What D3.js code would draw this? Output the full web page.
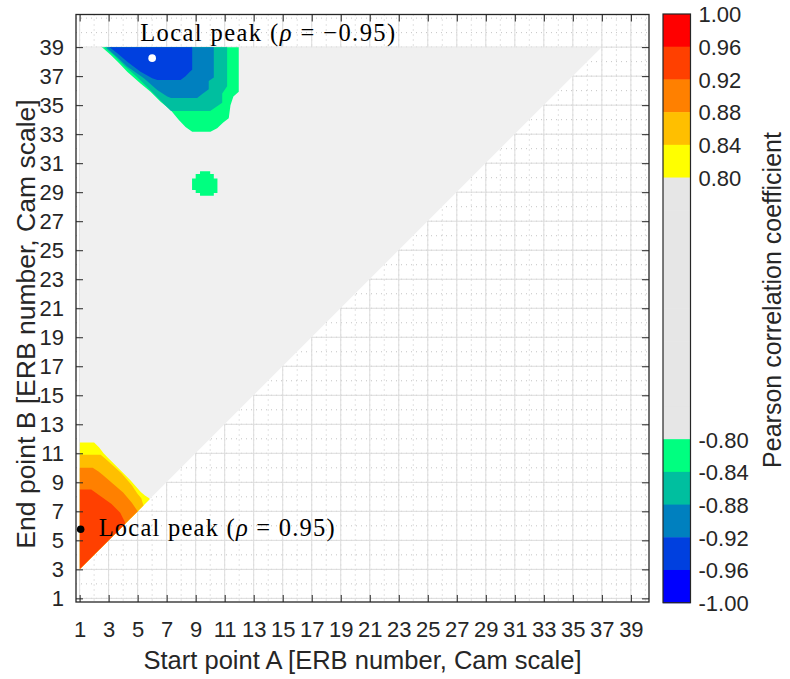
<!DOCTYPE html>
<html><head><meta charset="utf-8">
<script src="https://cdn.jsdelivr.net/npm/d3@7/dist/d3.min.js"></script>
<style>body{margin:0;background:#fff}svg{display:block}</style>
</head><body>
<svg id="chart" width="790" height="679"></svg>
<script>
// ---------- data ----------
const xTickValues = [1,3,5,7,9,11,13,15,17,19,21,23,25,27,29,31,33,35,37,39];
const yTickValues = [1,3,5,7,9,11,13,15,17,19,21,23,25,27,29,31,33,35,37,39];
// region where correlations were computed (start A, end B)
const dataRegion = [[1,3],[1,39],[37,39]];
// positive contour levels (rho >= level), bottom-left blob
const posLevels = [0.80, 0.84, 0.88, 0.92];
const posContour080 = [[1,11.75],[2.0,11.75],[2.35,11.4],[2.65,11.0],[3.0,10.65],[3.35,10.3],[3.9,9.75],[4.5,9.15],[5.2,8.35],[5.5,8.1],[5.8,7.9],[5.85,7.8],[9,7.8],[9,1],[1,1]];
const posContour084 = [[1,10.9],[2.45,10.9],[2.8,10.6],[3.2,10.25],[3.9,9.6],[4.3,9.15],[4.6,8.8],[5.0,8.2],[5.25,7.9],[5.4,7.4],[9,7.4],[9,1],[1,1]];
const posContour088 = [[1,10.0],[1.9,10.0],[2.3,9.75],[2.6,9.5],[3.3,8.9],[4.0,8.3],[4.6,7.6],[5.0,7.0],[9,7],[9,1],[1,1]];
const posContour092 = [[1,8.5],[1.8,8.5],[2.5,8.0],[3.2,7.5],[3.8,6.9],[4.1,6.3],[4.2,6.0],[9,6],[9,1],[1,1]];
// negative contour levels (rho <= level), top-left blob
const negLevels = [-0.80, -0.84, -0.88, -0.92];
const negContour080 = [[2.3,40],[2.49,39.04],[3.13,38.47],[3.71,37.9],[4.28,37.3],[5.2,36.5],[5.89,35.93],[6.58,35.24],[7.27,34.67],[7.84,33.98],[8.3,33.5],[8.76,33.16],[10.02,33.16],[10.48,33.4],[10.9,33.8],[11.28,34.1],[11.4,35.0],[11.6,35.6],[11.97,35.93],[11.97,40]];
const negContour084 = [[2.6,40],[2.7,39],[3.4,38.4],[4.1,37.7],[4.9,37.0],[5.6,36.3],[6.3,35.6],[6.9,35.0],[7.3,34.6],[10.0,34.6],[10.48,34.93],[10.83,35.16],[10.83,35.8],[11.17,36.3],[11.17,40]];
const negContour088 = [[2.8,40],[2.9,38.93],[3.6,38.3],[4.28,37.66],[5.43,36.86],[6.35,36.05],[7.04,35.6],[7.3,35.5],[9.1,35.5],[9.5,35.8],[9.9,36.1],[9.9,36.66],[10.25,36.9],[10.25,40]];
const negContour092 = [[3.0,40],[3.06,39],[3.6,38.58],[4.28,38.0],[5.2,37.3],[6.0,36.85],[6.35,36.74],[7.96,36.74],[8.3,37.0],[8.6,37.3],[8.76,37.44],[8.76,40]];
// small isolated island (rho <= -0.80)
const islandLevel = -0.80;
const islandContour = [[9.3,30.45],[10.0,30.45],[10.0,30.25],[10.25,30.25],[10.25,29.95],[10.5,29.95],[10.5,28.95],[10.25,28.95],[10.25,28.75],[9.3,28.75],[9.3,28.95],[9.0,28.95],[9.0,29.15],[8.75,29.15],[8.75,29.95],[9.0,29.95],[9.0,30.25],[9.3,30.25]];
// local peaks
const peakA = [1.07, 6.0];
const peakB = [5.76, 38.24];
const peakRho = [0.95, -0.95];
// colour map (top -> bottom of the colour bar)
const cmapColors = ['#FF0000','#FF4000','#FF8000','#FFBF00','#FFFF00',
  '#E6E6E6','#E6E6E6','#E6E6E6','#E6E6E6','#E6E6E6','#E6E6E6','#E6E6E6','#E6E6E6',
  '#00FF80','#00BF9F','#0080BF','#0040DF','#0000FF'];
const cbTickLabels = ['1.00','0.96','0.92','0.88','0.84','0.80','-0.80','-0.84','-0.88','-0.92','-0.96','-1.00'];
const bandThresholds = [-0.96,-0.92,-0.88,-0.84,-0.80,0.80,0.84,0.88,0.92,0.96];
const bandColors = ['#0000FF','#0040DF','#0080BF','#00BF9F','#00FF80','#F0F0F0','#FFFF00','#FFBF00','#FF8000','#FF4000','#FF0000'];

// ---------- layout ----------
const svg = d3.select('#chart');
const L = 76, R = 649, T = 14.5, B = 602;
const x = d3.scaleLinear().domain([0.75, 40.25]).range([L, R]);
const y = d3.scaleLinear().domain([0.75, 41.25]).range([B, T]);
const color = d3.scaleThreshold().domain(bandThresholds).range(bandColors);
const sans = 'Liberation Sans, Arial, Helvetica, sans-serif';
const serif = 'Liberation Serif, Times New Roman, serif';
const axisColor = '#262626';
const tickFont = 22, labelFont = 25.5;

const defs = svg.append('defs');
defs.append('clipPath').attr('id','axclip').append('rect')
  .attr('x', L).attr('y', T).attr('width', R-L).attr('height', B-T);
const line = d3.line().x(d => x(d[0])).y(d => y(d[1]));
defs.append('clipPath').attr('id','dataclip').append('path')
  .attr('d', line(dataRegion) + 'Z');

// background
svg.append('rect').attr('x',L).attr('y',T).attr('width',R-L).attr('height',B-T).attr('fill','#fff');

// grid
const grid = svg.append('g').attr('clip-path','url(#axclip)');
const minorX = d3.range(1, 41), minorY = d3.range(1, 42);
grid.selectAll('.mx').data(minorX).join('line')
  .attr('x1', d => x(d)).attr('x2', d => x(d)).attr('y1', T).attr('y2', B)
  .attr('stroke','#c4c4c4').attr('stroke-width',1).attr('stroke-dasharray','1,4');
grid.selectAll('.my').data(minorY).join('line')
  .attr('y1', d => y(d)).attr('y2', d => y(d)).attr('x1', L).attr('x2', R)
  .attr('stroke','#c4c4c4').attr('stroke-width',1).attr('stroke-dasharray','1,4');
grid.selectAll('.gx').data(xTickValues).join('line')
  .attr('x1', d => x(d)).attr('x2', d => x(d)).attr('y1', T).attr('y2', B)
  .attr('stroke','#dcdcdc').attr('stroke-width',1);
grid.selectAll('.gy').data(yTickValues).join('line')
  .attr('y1', d => y(d)).attr('y2', d => y(d)).attr('x1', L).attr('x2', R)
  .attr('stroke','#dcdcdc').attr('stroke-width',1);

// data field
const field = svg.append('g').attr('clip-path','url(#dataclip)');
field.append('path').attr('d', line(dataRegion)+'Z').attr('fill', color(0));
const posContours = [posContour080, posContour084, posContour088, posContour092];
const negContours = [negContour080, negContour084, negContour088, negContour092];
posContours.forEach((c, i) => {
  field.append('path').attr('d', line(c)+'Z').attr('fill', color(posLevels[i] + 0.02));
});
negContours.forEach((c, i) => {
  field.append('path').attr('d', line(c)+'Z').attr('fill', color(negLevels[i] - 0.02));
});
field.append('path').attr('d', line(islandContour)+'Z').attr('fill', color(islandLevel - 0.02));

// axes
const tickLen = 7;
const ax = svg.append('g').attr('font-family', sans);
const bottomAxis = d3.axisBottom(x).tickValues(xTickValues).tickFormat(d3.format('d'))
  .tickSizeInner(-tickLen).tickSizeOuter(0).tickPadding(19);
const gB = ax.append('g').attr('transform', `translate(0,${B})`).call(bottomAxis);
const leftAxis = d3.axisLeft(y).tickValues(yTickValues).tickFormat(d3.format('d'))
  .tickSizeInner(-tickLen).tickSizeOuter(0).tickPadding(12);
const gL = ax.append('g').attr('transform', `translate(${L},0)`).call(leftAxis);
const gT = ax.append('g').attr('transform', `translate(0,${T})`)
  .call(d3.axisTop(x).tickValues(xTickValues).tickFormat('').tickSizeInner(-tickLen).tickSizeOuter(0));
const gR = ax.append('g').attr('transform', `translate(${R},0)`)
  .call(d3.axisRight(y).tickValues(yTickValues).tickFormat('').tickSizeInner(-tickLen).tickSizeOuter(0));
[gB, gL, gT, gR].forEach(g => {
  g.select('.domain').remove();
  g.selectAll('.tick line').attr('stroke', axisColor).attr('stroke-width', 1);
  g.selectAll('.tick text').attr('fill', axisColor).attr('font-size', tickFont).attr('font-family', sans);
});
svg.append('rect').attr('x',L).attr('y',T).attr('width',R-L).attr('height',B-T)
  .attr('fill','none').attr('stroke',axisColor).attr('stroke-width',1.3);

// peak markers and annotations
const peaks = peakA.map((a, i) => ({A: a, B: peakB[i], rho: peakRho[i]}));
svg.selectAll('.peak').data(peaks).join('circle')
  .attr('cx', d => x(d.A)).attr('cy', d => y(d.B)).attr('r', 3.8)
  .attr('fill', d => d.rho > 0 ? '#000' : '#fff');
peaks.forEach(d => {
  const tx = d.rho > 0 ? x(d.A) + 18 : x(d.A) - 12;
  const ty = d.rho > 0 ? y(d.B) + 7 : y(d.B) - 17;
  const t = svg.append('text').attr('x', tx).attr('y', ty)
    .attr('font-family', serif).attr('font-size', 24.5).attr('fill', '#000')
    .attr('textLength', d.rho > 0 ? 236 : 255).attr('lengthAdjust', 'spacing');
  t.append('tspan').text('Local peak (');
  t.append('tspan').attr('font-style','italic').text('ρ');
  t.append('tspan').text(' = ' + (d.rho < 0 ? '\u2212' : '') + Math.abs(d.rho).toFixed(2) + ')');
});

// axis labels
svg.append('text').attr('x', (L+R)/2).attr('y', 669).attr('text-anchor','middle')
  .attr('font-family', sans).attr('font-size', labelFont).attr('fill', axisColor)
  .text('Start point A [ERB number, Cam scale]');
svg.append('text').attr('transform', `translate(35,324) rotate(-90)`).attr('text-anchor','middle')
  .attr('font-family', sans).attr('font-size', 26.5).attr('fill', axisColor)
  .text('End point B [ERB number, Cam scale]');

// colour bar
const cbL = 663, cbW = 27.5, cbT = 14, cbB = 602.7;
const cbY = d3.scaleLinear().domain([0, cmapColors.length]).range([cbT, cbB]);
const cb = svg.append('g');
cb.selectAll('rect.seg').data(cmapColors).join('rect')
  .attr('x', cbL).attr('y', (d, i) => cbY(i)).attr('width', cbW)
  .attr('height', (d, i) => cbY(i+1) - cbY(i) + 0.5).attr('fill', d => d);
// tick positions = colour boundaries
const boundaries = [0];
cmapColors.forEach((c, i) => { if (i > 0 && c !== cmapColors[i-1]) boundaries.push(i); });
boundaries.push(cmapColors.length);
cb.selectAll('text.cbt').data(boundaries).join('text')
  .attr('x', cbL + cbW + 8).attr('y', d => cbY(d)).attr('dy', '0.38em')
  .attr('font-family', sans).attr('font-size', tickFont).attr('fill', axisColor)
  .text((d, i) => cbTickLabels[i]);
cb.append('rect').attr('x', cbL).attr('y', cbT).attr('width', cbW).attr('height', cbB - cbT)
  .attr('fill','none').attr('stroke', axisColor).attr('stroke-width', 1.2);
svg.append('text').attr('transform', `translate(781,300) rotate(-90)`).attr('text-anchor','middle')
  .attr('font-family', sans).attr('font-size', 25).attr('fill', axisColor)
  .text('Pearson correlation coefficient');
</script>
</body></html>
